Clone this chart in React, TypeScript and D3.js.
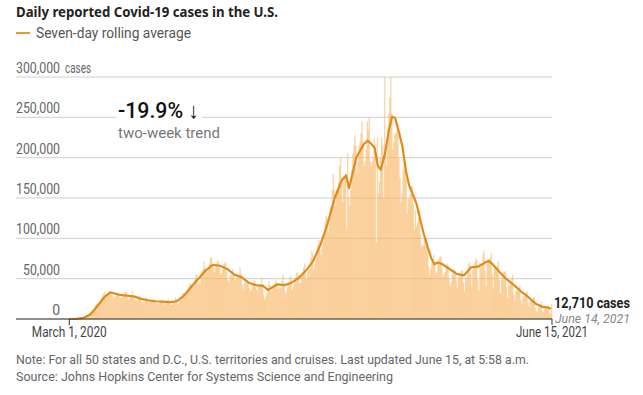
import React, { useEffect, useRef } from 'react';
import * as d3 from 'd3';

const WIDTH = 643;
const HEIGHT = 395;
const PLOT = { left: 16, right: 552, top: 77, bottom: 319 };

const FONT = "'Roboto', 'Noto Sans', sans-serif";

const TITLE = 'Daily reported Covid-19 cases in the U.S.';
const LEGEND_LABEL = 'Seven-day rolling average';
const NOTE = 'Note: For all 50 states and D.C., U.S. territories and cruises. Last updated June 15, at 5:58 a.m.';
const SOURCE = 'Source: Johns Hopkins Center for Systems Science and Engineering';

const Y_TICKS = [0, 50000, 100000, 150000, 200000, 250000, 300000];
const X_DOMAIN = ['2020-01-09', '2021-06-15'];
const X_TICKS = ['2020-03-01', '2021-06-15'];
const X_TICK_LABELS = ['March 1, 2020', 'June 15, 2021'];

const TREND_VALUE = '-19.9% ↓';
const TREND_LABEL = 'two-week trend';
const LAST_VALUE = '12,710 cases';
const LAST_DATE = 'June 14, 2021';

// daily reported cases, thousands, one row per week starting Sunday March 1, 2020
const FIRST_DAY = '2020-03-01';
const DAILY_K = [
    0.02, 0.02, 0.03, 0.04, 0.05, 0.08, 0.1,
    0.1, 0.2, 0.3, 0.4, 0.5, 0.7, 0.9,
    1.2, 1.7, 2.5, 4, 5.5, 7, 8.5,
    9.5, 11, 10.5, 12, 17, 18.5, 19.5,
    19, 22, 26, 27, 29, 32, 34,
    25, 29, 30, 31, 34, 33, 30,
    28, 26, 28, 29, 31, 32, 30,
    26, 27, 26, 29, 30, 35, 33,
    27, 24, 24, 28, 30, 35, 29,
    25, 23, 23, 24, 28, 28, 26,
    21, 19, 22, 21, 27, 25, 24,
    19, 21, 21, 22, 23, 25, 22,
    19, 20, 18, 19, 22, 23, 24,
    20, 17, 21, 19, 21, 24, 22,
    18, 17, 18, 21, 23, 27, 25,
    19, 18, 23, 26, 28, 32, 32,
    27, 31, 34, 36, 39, 45, 43,
    40, 40, 46, 51, 55, 55, 42,
    46, 44, 58, 60, 62, 72, 64,
    60, 58, 64, 68, 75, 77, 64,
    64, 58, 63, 69, 73, 71, 64,
    55, 57, 62, 68, 70, 69, 58,
    48, 46, 54, 54, 58, 62, 57,
    48, 49, 53, 55, 52, 64, 56,
    43, 37, 44, 48, 44, 48, 44,
    38, 34, 36, 43, 45, 48, 40,
    36, 35, 42, 40, 43, 51, 43,
    30, 24, 28, 32, 36, 47, 42,
    34, 34, 38, 39, 44, 49, 42,
    37, 39, 39, 38, 47, 55, 44,
    34, 32, 38, 43, 46, 54, 49,
    36, 41, 44, 50, 57, 58, 54,
    45, 45, 52, 58, 64, 69, 56,
    49, 58, 61, 63, 75, 85, 80,
    61, 68, 75, 80, 92, 98, 86,
    80, 91, 95, 104, 120, 128, 125,
    107, 118, 138, 140, 160, 180, 160,
    140, 160, 160, 170, 190, 200, 175,
    145, 170, 175, 180, 112, 205, 150,
    140, 160, 185, 205, 215, 228, 215,
    180, 195, 215, 220, 230, 245, 220,
    190, 195, 210, 245, 235, 250, 195,
    190, 195, 200, 225, 200, 95, 225,
    155, 170, 200, 225, 215, 150, 300,
    210, 190, 235, 255, 275, 300, 255,
    210, 220, 230, 230, 235, 240, 200,
    175, 145, 155, 185, 195, 190, 175,
    130, 150, 148, 155, 165, 165, 142,
    110, 135, 115, 120, 125, 135, 105,
    90, 92, 90, 100, 100, 100, 85,
    65, 54, 62, 70, 68, 80, 70,
    58, 57, 71, 74, 77, 78, 62,
    52, 56, 58, 66, 68, 66, 50,
    41, 46, 55, 58, 62, 60, 48,
    38, 52, 52, 56, 60, 60, 45,
    34, 52, 50, 62, 68, 70, 55,
    40, 60, 62, 70, 75, 73, 48,
    35, 70, 62, 65, 80, 85, 60,
    40, 68, 72, 74, 76, 82, 56,
    38, 62, 65, 62, 66, 72, 48,
    32, 48, 52, 58, 58, 60, 40,
    26, 45, 41, 50, 46, 55, 30,
    22, 35, 35, 38, 38, 42, 24,
    18, 28, 28, 28, 32, 35, 20,
    15, 22, 24, 24, 26, 28, 14,
    10, 8, 14, 18, 18, 22, 10,
    8, 13, 15, 16, 16, 17, 8,
    6, 19,
];

// seven-day rolling average, thousands
const AVG_DATES = [
    '2020-03-01', '2020-03-08', '2020-03-15', '2020-03-22', '2020-03-29', '2020-04-05', '2020-04-10',
    '2020-04-19', '2020-04-26', '2020-05-03', '2020-05-10', '2020-05-17', '2020-05-24', '2020-05-31',
    '2020-06-07', '2020-06-14', '2020-06-21', '2020-06-28', '2020-07-05', '2020-07-12', '2020-07-19',
    '2020-07-26', '2020-08-02', '2020-08-09', '2020-08-16', '2020-08-23', '2020-08-30', '2020-09-06',
    '2020-09-11', '2020-09-20', '2020-09-27', '2020-10-04', '2020-10-11', '2020-10-18', '2020-10-25',
    '2020-11-01', '2020-11-08', '2020-11-15', '2020-11-22', '2020-11-26', '2020-11-29', '2020-12-06',
    '2020-12-13', '2020-12-17', '2020-12-20', '2020-12-24', '2020-12-27', '2020-12-30', '2021-01-03',
    '2021-01-07', '2021-01-10', '2021-01-13', '2021-01-17', '2021-01-20', '2021-01-24', '2021-01-27',
    '2021-01-31', '2021-02-03', '2021-02-07', '2021-02-10', '2021-02-14', '2021-02-17', '2021-02-20',
    '2021-02-24', '2021-02-28', '2021-03-07', '2021-03-14', '2021-03-21', '2021-03-28', '2021-04-04',
    '2021-04-11', '2021-04-14', '2021-04-18', '2021-04-25', '2021-05-02', '2021-05-09', '2021-05-16',
    '2021-05-23', '2021-05-30', '2021-06-06', '2021-06-10', '2021-06-14',
];
const AVG_K = [
    0, 0.1, 1.5, 6, 17, 28, 33,
    30, 29, 28, 25, 23, 22, 21.5,
    21, 22, 29, 40, 50, 60, 67,
    66, 62, 55, 52, 45, 42, 41,
    36, 43, 42, 45, 51, 60, 72,
    92, 118, 150, 172, 178, 162, 200,
    216, 221, 218, 212, 190, 185, 205,
    235, 251, 249, 230, 214, 180, 164,
    152, 142, 120, 105, 88, 76, 68,
    70, 68, 62, 56, 54, 64, 65,
    70, 72, 68, 58, 49, 42, 34,
    27, 19, 15, 14.5, 12.71,
];

const addText = (
    g: d3.Selection<any, unknown, null, undefined>,
    txt: string, x: number, y: number, size: number, fill: string, len?: number,
) => {
    const t = g.append('text')
        .attr('x', x).attr('y', y)
        .style('font-family', FONT)
        .style('font-size', size + 'px')
        .attr('fill', fill)
        .text(txt);
    if (len) t.attr('textLength', len).attr('lengthAdjust', 'spacingAndGlyphs');
    return t;
};

const App = () => {
    const ref = useRef<SVGSVGElement>(null);

    useEffect(() => {
        const svg = d3.select(ref.current);
        svg.selectAll('*').remove();

        const parse = d3.utcParse('%Y-%m-%d');
        const first = parse(FIRST_DAY)!;

        const xScale = d3.scaleUtc()
            .domain(X_DOMAIN.map(d => parse(d)!))
            .range([PLOT.left, PLOT.right]);

        const yScale = d3.scaleLinear()
            .domain([0, 300000])
            .range([PLOT.bottom, PLOT.top]);

        // title and legend
        addText(svg, TITLE, 16, 17, 13.5, '#222', 262)
            .style('font-family', "'Noto Sans', sans-serif")
            .style('font-weight', 700);

        svg.append('line')
            .attr('x1', 16).attr('x2', 30)
            .attr('y1', 33).attr('y2', 33)
            .attr('stroke', '#e39a33')
            .attr('stroke-width', 2);
        addText(svg, LEGEND_LABEL, 36, 38, 14, '#555', 155);

        // gridlines + labels
        const grid = svg.append('g');
        Y_TICKS.forEach(t => {
            grid.append('line')
                .attr('x1', PLOT.left).attr('x2', PLOT.right)
                .attr('y1', yScale(t)).attr('y2', yScale(t))
                .attr('stroke', '#cfcfcf')
                .attr('stroke-width', 1);
            const label = d3.format(',')(t);
            const len = label.length >= 7 ? 44 : label.length === 6 ? 37 : undefined;
            addText(grid, label, 60, yScale(t) - 4, 14, '#666', len)
                .attr('text-anchor', 'end');
        });
        addText(grid, 'cases', 65, yScale(300000) - 4, 14, '#666', 26);

        // daily bars
        const days = DAILY_K.map((v, i) => ({ date: d3.utcDay.offset(first, i), value: v * 1000 }));
        svg.append('g')
            .selectAll('rect')
            .data(days)
            .enter().append('rect')
            .attr('x', d => xScale(d.date))
            .attr('y', d => yScale(d.value))
            .attr('width', d => xScale(d3.utcDay.offset(d.date, 1)) - xScale(d.date) + 0.35)
            .attr('height', d => PLOT.bottom - yScale(d.value))
            .attr('fill', '#f7b461')
            .attr('fill-opacity', 0.55);

        // rolling average line
        const avg = AVG_DATES.map((d, i) => ({ date: parse(d)!, value: AVG_K[i] * 1000 }));
        const line = d3.line<{ date: Date, value: number }>()
            .x(d => xScale(d.date))
            .y(d => yScale(d.value));
        svg.append('path')
            .datum(avg)
            .attr('fill', 'none')
            .attr('stroke', '#df8c1d')
            .attr('stroke-width', 2.2)
            .attr('stroke-linejoin', 'round')
            .attr('d', line);

        // baseline + x ticks
        svg.append('line')
            .attr('x1', PLOT.left).attr('x2', PLOT.right)
            .attr('y1', PLOT.bottom).attr('y2', PLOT.bottom)
            .attr('stroke', '#333')
            .attr('stroke-width', 1);
        const tickLens = [75, 72];
        X_TICKS.forEach((t, i) => {
            const x = xScale(parse(t)!);
            svg.append('line')
                .attr('x1', x).attr('x2', x)
                .attr('y1', PLOT.bottom).attr('y2', PLOT.bottom + 6)
                .attr('stroke', '#333');
            addText(svg, X_TICK_LABELS[i], x, 337, 14, '#444', tickLens[i])
                .attr('text-anchor', 'middle');
        });

        // two-week trend annotation
        svg.append('rect')
            .attr('x', 116).attr('y', 100)
            .attr('width', 86).attr('height', 44)
            .attr('fill', '#fff');
        addText(svg, TREND_VALUE, 118, 118, 22, '#111', 81)
            .style('font-weight', 500);
        addText(svg, TREND_LABEL, 118, 138, 14, '#777', 102);

        // last value label
        const last = avg[avg.length - 1];
        addText(svg, LAST_VALUE, 554, yScale(last.value) - 1, 14, '#222', 76)
            .style('font-weight', 700);
        addText(svg, LAST_DATE, 555, 323, 12.5, '#888', 75)
            .style('font-style', 'italic');

        // notes
        addText(svg, NOTE, 16, 364, 13, '#666', 513);
        addText(svg, SOURCE, 16, 381, 13, '#666', 377);
    }, []);

    return (
        <div style={{ position: 'absolute', left: 0, top: 0 }}>
            <svg ref={ref} width={WIDTH} height={HEIGHT} style={{ display: 'block', background: '#fff' }} />
        </div>
    );
};

export default App;
